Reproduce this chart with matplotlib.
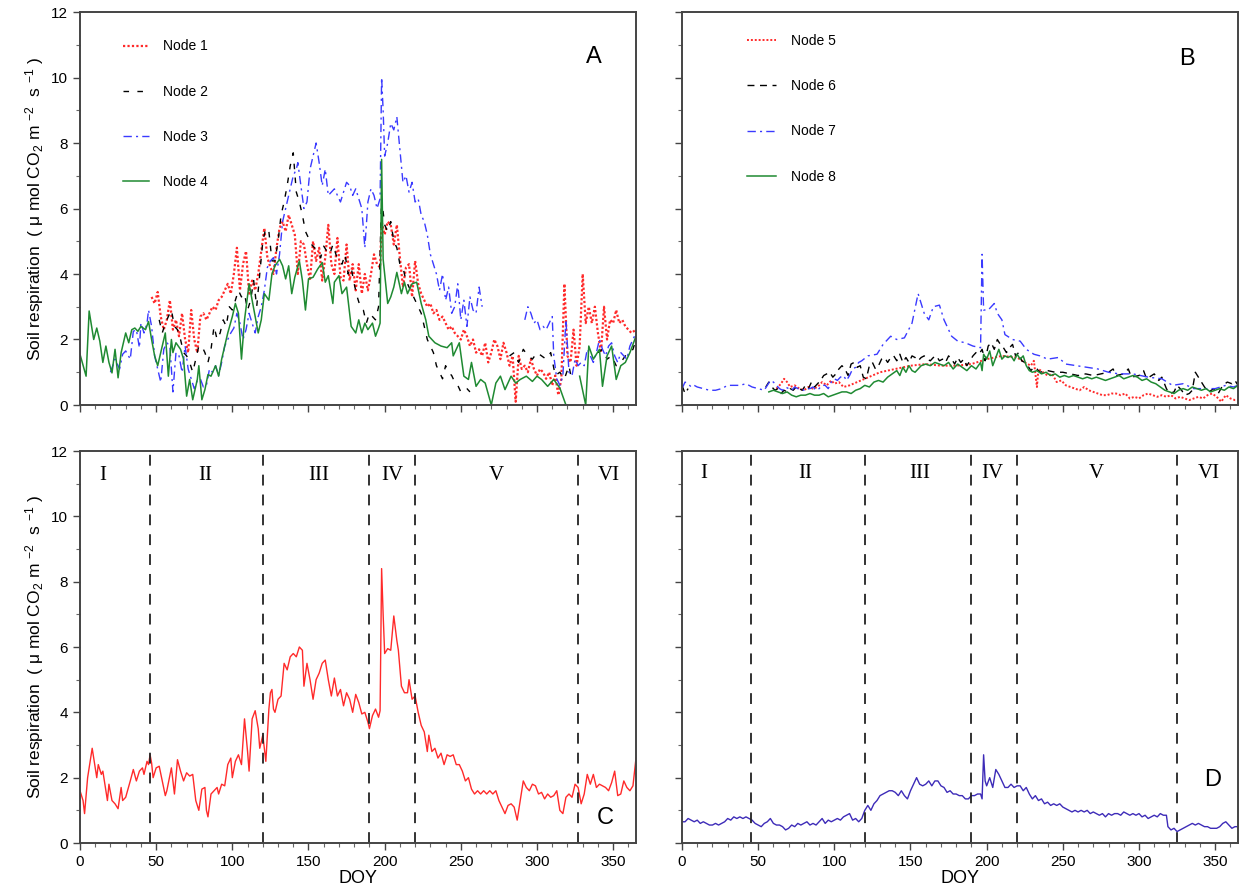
import numpy as np
import matplotlib
matplotlib.use("Agg")
import matplotlib.pyplot as plt
from matplotlib.ticker import MultipleLocator

plt.rcParams['font.family'] = ['Liberation Sans', 'DejaVu Sans']
plt.rcParams['mathtext.default'] = 'regular'

nan = np.nan

# ---------------- Panel A: nodes 1-4 ----------------
node1_doy = [47, 49, 51, 53, 55, 57, 59, 61, 63, 65, 67, 69, 71, 73, 75, 77, 79, 81, 83, 85, 87, 89, 91, 93, 95,
             97, 99, 101, 103, 105, 107, 109, 111, 113, 115, 117, 119, 121, 123, 125, 127, 129, 131, 133, 135,
             137, 139, 141, 143, 145, 147, 149, 151, 153, 155, 157, 159, 161, 163, 165, 167, 169, 171, 173, 175,
             177, 179, 181, 183, 185, 187, 189, 191, 193, 195, 197, 198, 200, 202, 204, 206, 208, 210, 212, 214,
             216, 218, 220, 222, 224, 226, 228, 230, 232, 234, 236, 238, 240, 242, 244, 246, 248, 250, 252, 254,
             256, 258, 260, 262, 264, 266, 268, 270, 272, 274, 276, 278, 280, 282, 284, 286, 288, 290, 292, 294,
             296, 298, 300, 302, 304, 306, 308, 310, 312, 314, 316, 318, 320, 322, 324, 326, 328, 330, 332, 334,
             336, 338, 340, 342, 344, 346, 348, 350, 352, 354, 356, 358, 360, 362, 365]
node1_val = [3.3, 3.1, 3.45, 2.7, 2.3, 2.6, 3.2, 2.3, 2.6, 2.1, 2.8, 2.0, 1.6, 2.9, 2.0, 1.6, 2.7, 2.8, 2.6, 2.8,
             3.0, 2.9, 3.2, 3.3, 3.5, 3.7, 3.4, 4.0, 4.8, 3.5, 4.3, 4.7, 3.4, 3.8, 3.5, 4.0, 4.7, 5.4, 4.5, 4.2,
             4.0, 4.8, 5.4, 5.6, 5.3, 5.8, 5.5, 5.2, 4.0, 5.0, 4.9, 4.3, 3.8, 5.0, 4.4, 4.8, 3.8, 4.5, 5.5, 4.3,
             4.0, 5.1, 3.9, 3.8, 4.9, 3.8, 4.3, 3.5, 4.3, 3.4, 4.0, 3.5, 4.0, 4.6, 4.3, 4.2, 5.6, 5.2, 5.6, 5.5,
             4.9, 5.5, 4.5, 3.6, 4.2, 4.3, 3.3, 4.4, 3.7, 3.4, 3.2, 3.0, 3.1, 2.8, 2.9, 2.6, 2.7, 2.5, 2.3, 2.4,
             2.2, 2.1, 2.0, 2.3, 2.1, 1.8, 2.0, 1.6, 1.7, 1.5, 1.9, 1.3, 1.6, 2.0, 1.8, 1.4, 1.9, 1.6, 1.2, 1.5,
             0.1, 1.5, 1.1, 1.2, 1.0, 1.4, 1.1, 0.9, 1.1, 1.0, 0.8, 1.0, 0.6, 0.9, 0.3, 0.8, 3.7, 1.5, 1.3, 2.3,
             1.2, 1.8, 4.0, 2.5, 3.0, 2.5, 3.0, 2.2, 1.6, 3.0, 2.0, 2.6, 2.5, 2.9, 2.5, 2.6, 2.4, 2.3, 2.2, 2.3]

node2_doy = [52, 54, 56, 58, 60, 62, 64, 66, 68, 70, 72, 74, 76, 78, 80, 82, 84, 86, 88, 90, 92, 94, 96, 98, 100,
             102, 104, 106, 108, 110, 112, 114, 116, 118, 120, 122, 124, 126, 128, 130, 132, 134, 136, 138, 140,
             142, 144, 146, 148, 150, 152, 154, 156, 158, 160, 162, 164, 166, 168, 170, 172, 174, 176, 178, 180,
             182, 184, 186, 188, 190, 192, 194, 196, 198, 200, 202, 204, 206, 208, 210, 212, 214, 216, 218, 220,
             222, 224, 226, 228, 230, 232, 234, 236, 238, 240, 242, 244, 246, 248, 250, 252, 254, 256, 270, 282,
             285, 288, 291, 294, 297, 300, 303, 306, 309, 312, 315, 318, 321, 323, 330, 340, 343, 346, 349, 352,
             355, 358, 361, 363, 365]
node2_val = [2.6, 2.2, 2.5, 2.7, 2.9, 2.4, 2.3, 2.0, 1.6, 1.5, 1.3, 1.0, 1.4, 1.8, 1.8, 1.6, 1.3, 1.7, 2.4, 2.0,
             2.2, 2.6, 2.4, 3.0, 2.9, 3.2, 3.5, 3.3, 3.4, 2.9, 3.2, 3.8, 3.0, 4.0, 5.0, 5.4, 5.3, 4.4, 4.4, 5.0,
             5.8, 6.2, 6.7, 7.3, 7.7, 6.5, 6.2, 5.8, 5.3, 5.1, 4.9, 4.8, 4.7, 4.5, 4.85, 4.7, 4.6, 4.9, 4.6, 4.4,
             4.3, 4.6, 4.0, 4.2, 3.7, 3.3, 3.0, 2.9, 2.5, 2.8, 2.7, 2.6, 3.0, 6.3, 5.5, 5.3, 5.6, 5.0, 4.8, 4.3,
             4.2, 3.8, 3.6, 3.4, 3.2, 3.0, 2.8, 2.4, 2.0, 1.8, 1.6, 1.2, 1.0, 0.8, 1.2, 1.0, 0.9, 0.7, 0.6, 0.4,
             0.5, 0.5, 0.4, nan, 1.5, 1.6, 1.3, 1.7, 1.5, 1.4, 1.6, 1.5, 1.4, 1.6, 0.9, 1.0, 0.8, 1.2, 0.7, nan,
             1.6, 1.7, 1.4, 1.5, 1.2, 1.3, 1.5, 1.6, 1.7, 2.0]

node3_doy = [20, 23, 26, 28, 30, 33, 35, 37, 39, 40, 42, 44, 45, 47, 49, 51, 53, 55, 57, 59, 61, 63, 65, 67, 69,
             71, 73, 75, 77, 79, 81, 83, 85, 87, 89, 91, 93, 95, 97, 99, 101, 103, 105, 107, 109, 111, 113, 115,
             117, 119, 121, 123, 125, 127, 129, 131, 133, 135, 137, 138, 140, 142, 143, 145, 147, 149, 151, 153,
             155, 157, 159, 161, 163, 165, 167, 169, 171, 173, 175, 177, 179, 181, 183, 185, 187, 189, 191, 193,
             195, 197, 198, 199, 200, 202, 204, 206, 208, 210, 212, 214, 216, 218, 220, 222, 224, 226, 228, 230,
             232, 234, 236, 238, 240, 242, 244, 246, 248, 250, 252, 254, 256, 258, 260, 262, 264, 278, 292, 294,
             296, 298, 300, 302, 304, 306, 308, 310, 311, 313, 315, 317, 319, 321, 323, 325, 327, 329, 331, 333,
             335, 337, 339, 341, 343, 345, 347, 349, 351, 353, 355, 357, 359, 361, 363, 365]
node3_val = [1.0, 1.4, 1.1, 1.55, 1.65, 1.4, 2.25, 2.3, 1.75, 2.5, 2.2, 2.5, 2.9, 2.4, 1.5, 1.1, 0.7, 1.7, 1.9,
             1.8, 0.4, 1.6, 1.5, 1.0, 1.8, 1.1, 0.8, 0.5, 0.75, 0.8, 0.55, 0.6, 1.1, 1.0, 1.2, 0.9, 1.3, 1.8, 2.0,
             2.2, 2.35, 2.8, 2.5, 2.0, 2.3, 2.8, 2.5, 2.2, 2.7, 3.0, 3.5, 4.2, 4.4, 4.5, 4.0, 4.6, 5.6, 6.0, 6.4,
             6.6, 7.0, 7.2, 7.4, 6.7, 6.0, 6.2, 7.2, 7.6, 8.0, 7.4, 6.7, 7.2, 6.4, 6.5, 6.6, 6.4, 6.2, 6.5, 6.8,
             6.7, 6.4, 6.6, 6.3, 6.0, 4.8, 6.2, 6.6, 6.4, 6.0, 6.3, 10.0, 9.0, 7.6, 8.0, 8.6, 8.4, 8.8, 7.8, 6.8,
             7.0, 6.5, 6.8, 6.2, 6.3, 5.8, 5.6, 5.2, 4.6, 4.3, 4.0, 3.5, 4.0, 3.2, 3.6, 2.8, 3.0, 3.7, 2.6, 3.2,
             2.4, 3.3, 2.9, 2.8, 3.6, 3.0, nan, 2.6, 3.0, 2.8, 2.5, 2.6, 2.3, 2.4, 2.3, 2.5, 2.7, 1.5, 0.8, 0.6,
             0.9, 2.6, 1.0, 0.9, 1.4, 1.2, 1.3, 1.2, 1.7, 1.5, 1.3, 1.6, 2.0, 1.7, 1.5, 1.8, 1.9, 1.5, 1.3, 1.6,
             1.5, 1.4, 1.8, 2.0, 2.2]

node4_doy = [0, 4, 6, 9, 11, 13, 15, 17, 19, 21, 23, 25, 27, 30, 32, 34, 36, 38, 40, 43, 45, 47, 49, 51, 54, 56,
             58, 60, 61, 63, 66, 68, 70, 72, 74, 77, 78, 80, 82, 84, 86, 89, 91, 93, 95, 97, 100, 102, 104, 106,
             108, 111, 113, 115, 117, 119, 121, 124, 126, 128, 131, 133, 135, 137, 139, 141, 144, 146, 148, 150,
             153, 156, 159, 161, 163, 166, 167, 170, 172, 175, 178, 181, 183, 185, 187, 189, 192, 194, 196, 197,
             198, 199, 202, 204, 206, 208, 211, 213, 215, 218, 221, 224, 227, 229, 231, 233, 237, 241, 244, 245,
             249, 252, 255, 257, 260, 263, 266, 270, 273, 276, 279, 283, 286, 289, 293, 297, 300, 303, 307, 311,
             315, 319, 323, 328, 332, 334, 337, 341, 343, 346, 349, 352, 355, 358, 361, 365]
node4_val = [1.55, 0.88, 2.87, 2.0, 2.35, 1.95, 1.3, 1.8, 1.3, 0.98, 1.7, 0.83, 1.6, 2.2, 1.9, 2.3, 2.35, 2.25,
             2.4, 2.3, 2.55, 2.0, 1.5, 1.2, 1.8, 2.2, 0.88, 2.0, 1.6, 1.9, 1.7, 1.4, 0.27, 0.78, 0.16, 0.78, 1.2,
             0.16, 0.47, 0.93, 0.88, 1.2, 0.88, 1.4, 1.8, 2.2, 2.7, 3.1, 2.8, 1.4, 2.6, 3.7, 3.2, 2.7, 2.2, 2.6,
             3.4, 3.2, 4.0, 4.25, 4.45, 4.25, 3.85, 4.25, 3.4, 3.9, 4.4, 3.8, 2.9, 3.85, 3.9, 4.15, 4.35, 3.75,
             3.95, 3.1, 3.75, 3.95, 3.4, 3.6, 2.4, 2.2, 2.6, 2.2, 2.5, 2.3, 2.5, 2.1, 2.35, 2.5, 7.5, 4.45, 3.1,
             3.3, 3.6, 4.05, 3.4, 3.75, 3.4, 3.7, 3.75, 3.1, 2.6, 2.1, 2.0, 1.9, 1.8, 1.75, 1.9, 1.5, 1.9, 0.88,
             0.78, 1.3, 0.57, 0.78, 0.67, 0.0, 0.67, 0.88, 0.47, 0.88, 0.67, 0.78, 0.88, 0.72, 0.88, 0.78, 0.57,
             0.78, 0.52, 0.0, nan, 0.88, 0.0, 1.8, 1.4, 1.7, 0.57, 1.5, 1.8, 0.78, 1.2, 1.3, 1.6, 2.1]

# ---------------- Panel B: nodes 5-8 ----------------
node5_doy = [62, 65, 67, 69, 71, 74, 77, 80, 83, 86, 89, 92, 95, 98, 100, 103, 106, 110, 115, 120, 125, 130, 140,
             150, 160, 170, 180, 190, 200, 210, 220, 225, 229, 231, 233, 234, 237, 240, 243, 246, 249, 252, 255,
             258, 261, 264, 267, 270, 273, 276, 279, 282, 285, 288, 291, 294, 297, 300, 303, 306, 309, 312, 315,
             318, 321, 324, 327, 330, 333, 336, 339, 342, 345, 348, 351, 354, 357, 360, 363, 365]
node5_val = [0.5, 0.65, 0.8, 0.7, 0.55, 0.6, 0.5, 0.45, 0.55, 0.5, 0.55, 0.7, 0.6, 0.75, 0.65, 0.7, 0.55, 0.6,
             0.7, 0.8, 0.9, 1.0, 1.1, 1.2, 1.25, 1.2, 1.2, 1.25, 1.4, 1.5, 1.45, 1.3, 1.2, 1.35, 0.55, 1.1, 1.0,
             0.9, 0.95, 0.7, 0.75, 0.6, 0.55, 0.5, 0.45, 0.55, 0.45, 0.4, 0.35, 0.3, 0.3, 0.35, 0.35, 0.3, 0.35,
             0.2, 0.25, 0.2, 0.3, 0.35, 0.3, 0.25, 0.3, 0.25, 0.3, 0.2, 0.25, 0.2, 0.15, 0.2, 0.25, 0.2, 0.3,
             0.35, 0.25, 0.1, 0.3, 0.2, 0.15, 0.15]

node6_doy = [0, 2, 4, 5, 55, 57, 59, 61, 63, 65, 67, 69, 71, 73, 75, 77, 79, 81, 83, 85, 87, 89, 91, 93, 95, 97,
             99, 101, 103, 105, 107, 109, 111, 113, 115, 117, 119, 121, 123, 125, 127, 129, 131, 133, 135, 137,
             139, 141, 143, 145, 147, 149, 151, 153, 155, 157, 159, 161, 163, 165, 167, 169, 171, 173, 175, 177,
             179, 181, 183, 185, 187, 189, 191, 193, 195, 197, 199, 201, 203, 205, 207, 209, 211, 213, 215, 217,
             219, 221, 223, 225, 227, 229, 231, 233, 235, 240, 245, 250, 255, 260, 265, 270, 275, 280, 283, 285,
             290, 293, 295, 300, 303, 305, 310, 313, 315, 318, 320, 323, 325, 328, 330, 333, 335, 337, 339, 341,
             343, 346, 349, 352, 355, 358, 361, 363, 365]
node6_val = [0.6, 0.35, 0.5, nan, 0.55, 0.7, 0.55, 0.45, 0.5, 0.35, 0.45, 0.4, 0.5, 0.45, 0.55, 0.5, 0.45, 0.6,
             0.5, 0.7, 0.55, 0.65, 0.75, 0.9, 0.95, 1.0, 0.85, 0.95, 1.1, 1.2, 1.1, 0.9, 1.25, 1.3, 1.15, 1.2,
             0.85, 0.8, 1.2, 1.3, 1.1, 1.2, 1.4, 1.45, 1.3, 1.45, 1.5, 1.35, 1.55, 1.3, 1.45, 1.3, 1.5, 1.45,
             1.35, 1.45, 1.5, 1.4, 1.35, 1.45, 1.5, 1.35, 1.4, 1.3, 1.5, 1.4, 1.25, 1.45, 1.3, 1.4, 1.2, 1.35,
             1.5, 1.6, 1.55, 1.7, 1.35, 1.8, 1.9, 1.7, 2.0, 1.85, 1.75, 1.6, 1.75, 1.85, 1.5, 1.6, 1.35, 1.3,
             1.2, 1.05, 1.15, 1.1, 1.0, 1.05, 1.0, 1.0, 0.95, 0.9, 0.95, 0.9, 0.95, 1.0, 1.1, 0.9, 0.95, 1.1,
             0.85, 0.9, 1.05, 0.8, 0.95, 0.75, 0.85, 0.5, 0.35, 0.4, 0.6, 0.45, 0.3, 0.35, 0.45, 1.0, 0.85, 0.7,
             0.55, 0.4, 0.5, 0.35, 0.6, 0.7, 0.65, 0.75, 0.6]

node7_doy = [0, 2, 4, 6, 8, 10, 14, 18, 22, 26, 30, 34, 38, 42, 46, 50, 54, 56, 58, 60, 62, 64, 66, 68, 70, 72,
             74, 76, 78, 80, 82, 84, 86, 88, 90, 92, 94, 96, 98, 100, 102, 104, 106, 108, 110, 112, 114, 116, 118,
             122, 128, 132, 137, 141, 146, 151, 155, 159, 162, 165, 169, 172, 177, 181, 186, 191, 196, 197, 198,
             201, 205, 207, 210, 212, 217, 222, 226, 231, 235, 240, 247, 252, 259, 266, 273, 280, 287, 296, 306,
             315, 322, 329, 336, 343, 350, 357, 362, 365]
node7_val = [0.5, 0.7, 0.65, 0.55, 0.6, 0.55, 0.5, 0.45, 0.45, 0.5, 0.6, 0.6, 0.6, 0.65, 0.55, 0.5, 0.45, 0.6,
             0.75, 0.7, 0.6, 0.5, 0.45, 0.55, 0.5, 0.45, 0.55, 0.5, 0.5, 0.45, 0.5, 0.5, 0.55, 0.45, 0.5, 0.6,
             0.6, 0.5, 0.7, 0.8, 0.75, 0.85, 0.9, 0.75, 0.9, 1.1, 1.15, 1.3, 1.35, 1.5, 1.55, 1.85, 2.1, 2.0,
             2.05, 2.5, 3.4, 2.8, 2.6, 3.0, 3.05, 2.6, 2.1, 1.95, 1.9, 1.8, 1.75, 4.6, 2.9, 2.9, 3.1, 2.8, 2.6,
             2.15, 2.0, 1.95, 1.7, 1.55, 1.5, 1.4, 1.45, 1.25, 1.2, 1.15, 1.1, 1.0, 0.95, 0.95, 0.85, 0.8, 0.6,
             0.65, 0.5, 0.5, 0.5, 0.6, 0.55, 0.6]

node8_doy = [57, 60, 63, 66, 69, 72, 75, 78, 81, 84, 87, 90, 93, 96, 99, 102, 105, 108, 111, 114, 117, 120, 123,
             126, 129, 132, 135, 138, 141, 143, 145, 147, 149, 151, 153, 155, 157, 160, 163, 166, 169, 172, 175,
             178, 181, 184, 187, 190, 193, 196, 197, 198, 200, 202, 204, 206, 208, 210, 212, 214, 216, 218, 220,
             222, 224, 226, 228, 230, 233, 236, 239, 242, 245, 248, 251, 254, 257, 260, 263, 266, 269, 272, 275,
             278, 281, 284, 287, 290, 293, 296, 299, 302, 305, 308, 311, 314, 317, 320, 323, 326, 329, 332, 335,
             338, 341, 344, 347, 350, 353, 356, 359, 362, 365]
node8_val = [0.4, 0.45, 0.4, 0.35, 0.4, 0.3, 0.25, 0.3, 0.3, 0.35, 0.3, 0.3, 0.35, 0.25, 0.3, 0.35, 0.4, 0.4,
             0.35, 0.45, 0.5, 0.6, 0.55, 0.7, 0.75, 0.7, 0.85, 0.95, 1.05, 0.9, 1.15, 1.0, 1.2, 1.05, 1.0, 1.1,
             1.2, 1.25, 1.2, 1.3, 1.25, 1.2, 1.3, 1.1, 1.25, 1.15, 1.05, 1.2, 1.1, 1.3, 1.05, 1.55, 1.4, 1.65,
             1.2, 1.45, 1.7, 1.4, 1.5, 1.45, 1.5, 1.35, 1.55, 1.4, 1.5, 1.2, 1.05, 1.0, 1.05, 0.95, 1.0, 0.9,
             0.95, 0.85, 0.9, 0.85, 0.9, 0.85, 0.8, 0.85, 0.8, 0.85, 0.8, 0.75, 0.8, 0.85, 0.9, 0.8, 0.85, 0.9,
             0.85, 0.75, 0.8, 0.7, 0.65, 0.55, 0.45, 0.4, 0.35, 0.45, 0.5, 0.45, 0.55, 0.5, 0.45, 0.5, 0.4, 0.45,
             0.5, 0.45, 0.55, 0.5, 0.6]

# ---------------- Panel C: mean of nodes 1-4 ----------------
mean14_doy = [0, 2, 3, 5, 7, 8, 10, 11, 12, 14, 15, 16, 18, 19, 21, 23, 25, 27, 28, 30, 33, 35, 37, 39, 41, 42,
              44, 45, 46, 47, 48, 50, 52, 54, 56, 57, 60, 62, 64, 66, 68, 70, 72, 74, 76, 78, 80, 82, 83, 84, 86,
              88, 90, 91, 93, 95, 97, 99, 100, 102, 104, 106, 108, 110, 111, 113, 115, 117, 118, 120, 122, 124,
              125, 126, 127, 128, 130, 132, 134, 136, 138, 140, 142, 144, 146, 147, 149, 151, 153, 155, 157, 159,
              161, 163, 165, 167, 169, 171, 173, 175, 177, 179, 181, 183, 185, 187, 189, 190, 192, 194, 196, 197,
              198, 199, 200, 202, 204, 206, 208, 209, 211, 213, 215, 216, 218, 220, 222, 224, 226, 228, 229, 231,
              233, 235, 237, 239, 241, 243, 245, 247, 249, 251, 253, 255, 257, 259, 261, 263, 265, 267, 269, 271,
              273, 275, 277, 279, 281, 283, 285, 287, 289, 291, 293, 295, 297, 299, 301, 303, 305, 307, 309, 311,
              313, 315, 317, 319, 321, 323, 325, 327, 329, 331, 333, 335, 337, 339, 341, 343, 345, 347, 349, 351,
              353, 355, 357, 359, 361, 363, 365]
mean14_val = [1.6, 1.3, 0.9, 2.0, 2.6, 2.9, 2.3, 2.0, 2.4, 2.1, 2.2, 1.9, 1.3, 1.8, 1.3, 1.2, 1.05, 1.7, 1.3, 1.4,
              1.9, 2.25, 1.9, 2.2, 2.3, 2.1, 2.5, 2.4, 2.7, 2.45, 2.0, 2.3, 2.35, 1.9, 1.45, 1.6, 2.3, 1.5, 2.55,
              2.2, 1.9, 2.15, 2.05, 2.1, 1.3, 1.0, 1.65, 1.7, 1.0, 0.8, 1.5, 1.6, 1.7, 1.5, 1.8, 1.75, 2.4, 2.6,
              2.0, 2.5, 2.7, 2.4, 3.8, 2.8, 2.2, 3.8, 4.05, 3.5, 2.9, 3.3, 2.5, 4.1, 4.6, 4.7, 4.1, 4.0, 4.4, 4.5,
              5.5, 5.3, 5.7, 5.8, 5.7, 6.0, 5.9, 4.8, 5.5, 5.0, 4.4, 5.0, 5.2, 5.5, 5.6, 5.0, 4.5, 5.05, 4.5, 4.7,
              4.2, 4.6, 4.4, 4.0, 4.55, 4.3, 3.95, 4.0, 3.7, 3.5, 3.9, 4.1, 3.85, 4.05, 8.4, 7.0, 5.8, 5.95, 5.9,
              6.95, 6.2, 5.9, 4.8, 4.6, 4.6, 5.0, 4.4, 4.5, 4.0, 3.6, 3.4, 2.8, 3.3, 2.8, 2.9, 2.6, 2.75, 2.4,
              2.7, 2.65, 2.7, 2.4, 2.4, 2.2, 1.9, 2.0, 1.65, 1.5, 1.6, 1.5, 1.6, 1.5, 1.6, 1.5, 1.6, 1.3, 1.1, 0.9,
              1.15, 1.2, 1.1, 0.7, 1.3, 1.9, 1.7, 1.6, 1.8, 1.75, 1.5, 1.55, 1.35, 1.5, 1.4, 1.45, 1.6, 1.0, 0.9,
              1.4, 1.5, 1.4, 1.8, 1.7, 1.2, 1.5, 2.1, 1.8, 2.1, 1.7, 1.8, 1.75, 1.7, 1.6, 1.85, 2.2, 1.45, 1.5,
              1.9, 1.7, 1.6, 1.75, 2.6]

# ---------------- Panel D: mean of nodes 5-8 ----------------
mean58_doy = list(range(0, 198, 2)) + [197, 198, 199] + list(range(200, 320, 2)) + list(range(319, 366, 2))
mean58_doy = sorted(mean58_doy)
mean58_val = [0.65, 0.65, 0.75, 0.7, 0.65, 0.7, 0.6, 0.65, 0.6, 0.55, 0.55, 0.6, 0.55, 0.6, 0.65, 0.75, 0.7,
              0.8, 0.75, 0.8, 0.75, 0.8, 0.75, 0.7, 0.6, 0.55, 0.5, 0.6, 0.65, 0.75, 0.6, 0.55, 0.55, 0.5, 0.4,
              0.45, 0.55, 0.5, 0.6, 0.55, 0.6, 0.65, 0.55, 0.6, 0.55, 0.65, 0.75, 0.6, 0.7, 0.65, 0.7, 0.75, 0.7,
              0.8, 0.85, 0.9, 0.7, 0.75, 0.65, 0.75, 1.0, 1.15, 1.0, 1.2, 1.3, 1.45, 1.5, 1.55, 1.6, 1.6, 1.55,
              1.45, 1.6, 1.45, 1.35, 1.6, 1.8, 2.0, 1.8, 1.75, 1.8, 1.9, 1.75, 1.9, 1.9, 1.75, 1.7, 1.55, 1.6,
              1.5, 1.5, 1.45, 1.45, 1.35, 1.35, 1.45, 1.45, 1.5, 1.5,
              1.35, 2.7, 1.9,
              1.75, 2.0, 1.7, 2.25, 2.1, 1.9, 1.7, 1.7, 1.8, 1.7, 1.75, 1.75, 1.6, 1.7, 1.5, 1.35, 1.45, 1.3, 1.35,
              1.2, 1.25, 1.15, 1.2, 1.15, 1.2, 1.1, 1.05, 1.0, 0.95, 1.0, 0.95, 1.0, 0.95, 1.0, 0.9, 0.95, 0.9,
              0.85, 0.9, 0.8, 0.9, 0.85, 0.9, 0.9, 0.85, 0.95, 0.9, 0.85, 0.9, 0.85, 0.9, 0.8, 0.85, 0.75, 0.8,
              0.85, 0.8, 0.9, 0.85, 0.85,
              0.5, 0.4, 0.45, 0.35, 0.4, 0.45, 0.5, 0.55, 0.6, 0.55, 0.6, 0.55, 0.5, 0.5, 0.45, 0.45, 0.45, 0.5,
              0.6, 0.65, 0.55, 0.45, 0.5, 0.5]

# phase boundaries and labels
phase_c = [46, 120, 190, 220, 327]
phase_d = [45, 120, 190, 220, 325]
phase_names = ['I', 'II', 'III', 'IV', 'V', 'VI']
phase_label_doy = [15, 82, 157, 205, 273, 347]

RED = '#ff2a2a'
BLUE = '#3a3aff'
GREEN = '#1f8a32'
DBLUE = '#3d2bb8'

fig = plt.figure(figsize=(12.45, 8.96), dpi=100)
W, H = 1245, 896
def pos(l, r, t, b):
    return [l / W, (H - b) / H, (r - l) / W, (b - t) / H]

axA = fig.add_axes(pos(80, 636, 12, 405))
axB = fig.add_axes(pos(682, 1238, 12, 405))
axC = fig.add_axes(pos(80, 636, 451, 843))
axD = fig.add_axes(pos(682, 1238, 451, 843))

ylab = 'Soil respiration  ( $\\mu$ mol CO$_2$ m $^{-2}$  s $^{-1}$ )'

for ax in (axA, axB, axC, axD):
    ax.set_xlim(0, 365)
    ax.set_ylim(0, 12)
    ax.xaxis.set_major_locator(MultipleLocator(50))
    ax.xaxis.set_minor_locator(MultipleLocator(10))
    ax.yaxis.set_major_locator(MultipleLocator(2))
    ax.yaxis.set_minor_locator(MultipleLocator(1))
    ax.tick_params(which='major', direction='out', length=5, width=1, labelsize=11, color='#444444')
    ax.tick_params(which='minor', direction='out', length=3, width=0.8, color='#666666')
    for s in ax.spines.values():
        s.set_linewidth(1.4)
        s.set_color('#444444')

axA.tick_params(labelbottom=False)
axB.tick_params(labelbottom=False, labelleft=False)
axD.tick_params(labelleft=False)

# Panel A
axA.plot(node1_doy, node1_val, color=RED, lw=1.6, linestyle=(0, (1, 1)), label='Node 1')
axA.plot(node2_doy, node2_val, color='black', lw=1.0, linestyle=(0, (4, 6)), label='Node 2')
axA.plot(node3_doy, node3_val, color=BLUE, lw=1.0, linestyle=(0, (6, 3, 1.5, 3)), label='Node 3')
axA.plot(node4_doy, node4_val, color=GREEN, lw=1.1, label='Node 4')
axA.legend(loc='upper left', bbox_to_anchor=(0.055, 0.962), frameon=False, fontsize=10,
           labelspacing=2.25, handlelength=1.9, handletextpad=1.0)
axA.text(0.925, 0.885, 'A', transform=axA.transAxes, fontsize=17, ha='center', va='center')
axA.set_ylabel(ylab, fontsize=12.5)
axA.yaxis.set_label_coords(-0.062, 0.5)

# Panel B
axB.plot(node5_doy, node5_val, color=RED, lw=1.4, linestyle=(0, (1, 1)), label='Node 5')
axB.plot(node6_doy, node6_val, color='black', lw=1.0, linestyle=(0, (5, 4)), label='Node 6')
axB.plot(node7_doy, node7_val, color=BLUE, lw=1.0, linestyle=(0, (6, 3, 1.5, 3)), label='Node 7')
axB.plot(node8_doy, node8_val, color=GREEN, lw=1.1, label='Node 8')
axB.legend(loc='upper left', bbox_to_anchor=(0.095, 0.976), frameon=False, fontsize=10,
           labelspacing=2.25, handlelength=2.1, handletextpad=1.05)
axB.text(0.908, 0.88, 'B', transform=axB.transAxes, fontsize=17, ha='center', va='center')

# Panel C
axC.plot(mean14_doy, mean14_val, color=RED, lw=1.0)
for d in phase_c:
    axC.axvline(d, color='#222222', lw=1.3, linestyle=(0, (6, 5)))
for name, d in zip(phase_names, phase_label_doy):
    axC.text(d, 11.25, name, fontsize=15, ha='center', va='center', family='Liberation Serif')
axC.text(0.945, 0.065, 'C', transform=axC.transAxes, fontsize=17, ha='center', va='center')
axC.set_ylabel(ylab, fontsize=12.5)
axC.yaxis.set_label_coords(-0.062, 0.5)
axC.set_xlabel('DOY', fontsize=13, labelpad=1)

# Panel D
axD.plot(mean58_doy, mean58_val, color=DBLUE, lw=1.0)
for d in phase_d:
    axD.axvline(d, color='#222222', lw=1.3, linestyle=(0, (6, 5)))
for name, d in zip(phase_names, phase_label_doy):
    axD.text(d - 1, 11.3, name, fontsize=15, ha='center', va='center', family='Liberation Serif')
axD.text(0.955, 0.16, 'D', transform=axD.transAxes, fontsize=17, ha='center', va='center')
axD.set_xlabel('DOY', fontsize=13, labelpad=1)

fig.savefig('out.png', dpi=100)
